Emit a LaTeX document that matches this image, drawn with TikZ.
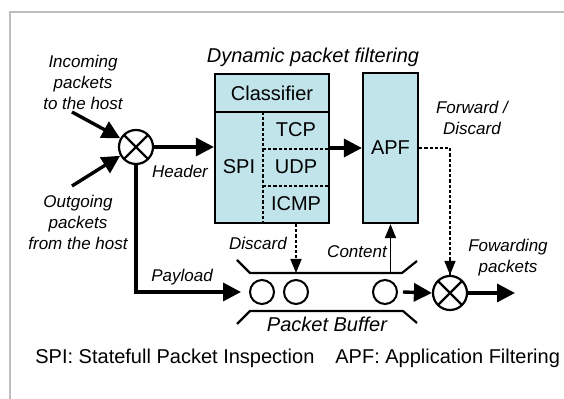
\documentclass[tikz,border=0pt]{standalone}
\usepackage{fontspec}
\setmainfont{Liberation Sans}
\usetikzlibrary{arrows.meta}
\definecolor{powder}{RGB}{192, 228, 234}
\definecolor{framegray}{RGB}{190, 190, 190}
\tikzset{
  blockbox/.style={draw, line width=1.1pt, fill=powder, inner sep=0pt},
  plain/.style={font=\fontsize{10}{12}\selectfont, inner sep=0pt},
  tag/.style={font=\fontsize{8.5}{10.5}\selectfont\itshape, align=center, inner sep=0pt},
  mux/.style={circle, draw, line width=1.1pt, fill=white, minimum size=17pt, inner sep=0pt,
      path picture={\draw[line width=1.1pt] (path picture bounding box.center) +(45:8.5pt) -- +(225:8.5pt) +(135:8.5pt) -- +(-45:8.5pt);}},
  slot/.style={circle, draw, line width=1pt, minimum size=12pt, inner sep=0pt},
  heavy/.style={line width=1.7pt, -{Triangle[length=9pt,width=9pt]}},
  dashlink/.style={line width=0.8pt, dash pattern=on 1.6pt off 1pt},
  dasharrow/.style={dashlink, -{Triangle[length=7pt,width=5.5pt]}},
  thinarrow/.style={line width=0.8pt, -{Triangle[length=7pt,width=5.5pt]}}
}
\begin{document}
\begin{tikzpicture}[x=0.5pt, y=-0.5pt]
            \useasboundingbox                                             (0,0) rectangle (564,399);
            \draw[framegray, line width=0.75pt]                           (10,399) -- (10,12) -- (564,12);
            \node[blockbox, minimum width=57pt,   minimum height=74.5pt] (spi) at (272,148.5) {};
            \node[blockbox, minimum width=27.5pt, minimum height=75pt]   (apf) at (390.5,148) {};
            \draw[line width=1.1pt]                                       (spi.west |- 0,112) -- (spi.east |- 0,112);
            \draw[dashlink]                                               (263,112) -- (263,223);
            \draw[dashlink]                                               (263,149) -- (spi.east |- 0,149);
            \draw[dashlink]                                               (263,186) -- (spi.east |- 0,186);
            \node[plain]                                                  (cls)  at (272,93)  {Classifier};
            \node[plain]                                                  (spit) at (239,167) {SPI};
            \node[plain]                                                  (tcp)  at (296,130) {TCP};
            \node[plain]                                                  (udp)  at (296,167) {UDP};
            \node[plain]                                                  (icmp) at (296,204) {ICMP};
            \node[plain]                                                  (apft) at (apf)     {APF};
            \node[plain, font=\fontsize{10}{12}\selectfont\itshape]       (dyn)  at (313,57)  {Dynamic packet filtering};
            \node[mux]                                                    (mxin)  at (136,147) {};
            \node[mux]                                                    (mxout) at (450,293) {};
            \node[slot]                                                   (q1) at (262,292) {};
            \node[slot]                                                   (q2) at (296,292) {};
            \node[slot]                                                   (q3) at (385,292) {};
            \coordinate                                                   (buftop)  at (0,273);
            \coordinate                                                   (inctail) at (72,112);
            \coordinate                                                   (outtail) at (72,186);
            \coordinate                                                   (fwd)     at (515,293);
            \draw[line width=1.1pt]                                       (237,260) -- (250,273) -- (402,273) -- (417,261);
            \draw[line width=1.1pt]                                       (237,324) -- (250,311) -- (403,311) -- (417,323);
            \node[tag]                                                    (inc) at (83,82)   {Incoming\\packets\\to the host};
            \node[tag]                                                    (outg) at (78,222) {Outgoing\\packets\\from the host};
            \node[tag]                                                    (hdr) at (180,171) {Header};
            \node[tag]                                                    (pay) at (182,277) {Payload};
            \node[tag]                                                    (dis) at (258,243) {Discard};
            \node[tag]                                                    (con) at (357,252) {Content};
            \node[tag]                                                    (fd)  at (472,118) {Forward /\\Discard};
            \node[tag]                                                    (fp)  at (508,258) {Fowarding\\packets};
            \node[tag, font=\fontsize{10}{12}\selectfont\itshape]         (pb)  at (327,324) {Packet Buffer};
            \draw[heavy]                                                  (inctail) -- (mxin.151);
            \draw[heavy]                                                  (outtail) -- (mxin.209);
            \draw[heavy]                                                  (mxin.east) -- (mxin.east -| spi.west);
            \draw[heavy]                                                  (spi.east |- apf) -- (apf.west);
            \draw[heavy]                                                  (mxin.south) |- ([xshift=-4pt]q1.west);
            \draw[dasharrow]                                              (spi.south -| q2) -- (q2 |- buftop);
            \draw[thinarrow]                                              (apf.south |- buftop) -- (apf.south);
            \draw[dashlink]                                               (apf.east) -| (mxout.north);
            \draw[dasharrow]                                              (mxout.north |- 0,260) -- (mxout.north);
            \draw[heavy]                                                  ([xshift=2.5pt]q3.east) -- (mxout.west);
            \draw[heavy]                                                  (mxout.east) -- (fwd);
            \node[plain, anchor=west]                                     (leg1) at (35,358)  {SPI: Statefull Packet Inspection};
            \node[plain, anchor=west]                                     (leg2) at (335,358) {APF: Application Filtering};
            \end{tikzpicture}
\end{document}
